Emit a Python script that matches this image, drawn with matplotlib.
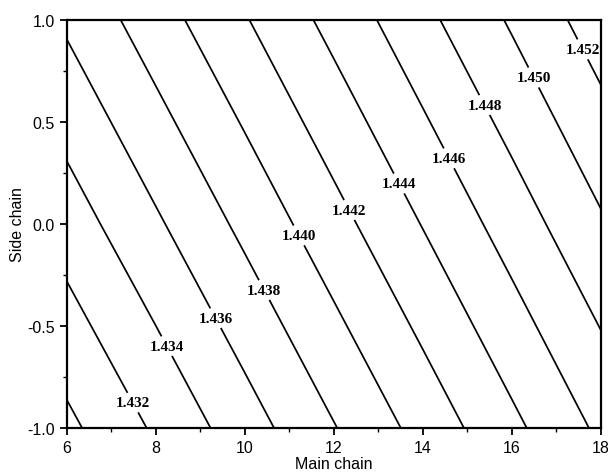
import matplotlib
matplotlib.use("Agg")
import matplotlib.pyplot as plt
import numpy as np
from matplotlib.ticker import MultipleLocator, FormatStrFormatter

# ---- data ----
main_chain = [6, 8, 10, 12, 14, 16, 18]
side_chain = [-1.0, 0.0, 1.0]
index_side_m1 = [1.42953, 1.43229, 1.43508, 1.43790, 1.44070, 1.44353, 1.44639]
index_side_0 = [1.43297, 1.43571, 1.43850, 1.44129, 1.44409, 1.44692, 1.44976]
index_side_p1 = [1.43632, 1.43910, 1.44186, 1.44464, 1.44746, 1.45025, 1.45305]
unlabelled_levels = [1.430]
labelled_levels = [1.432, 1.434, 1.436, 1.438, 1.440, 1.442,
                   1.444, 1.446, 1.448, 1.450, 1.452]

# label anchor positions (layout)
label_xy = [(7.45, -0.88), (8.24, -0.60), (9.36, -0.46), (10.47, -0.32),
            (11.27, -0.05), (12.36, 0.07), (13.48, 0.20), (14.57, 0.32),
            (15.36, 0.58), (16.46, 0.715), (17.57, 0.854)]

X, Y = np.meshgrid(main_chain, side_chain)
Z = np.array([index_side_m1, index_side_0, index_side_p1])

fig = plt.figure(figsize=(6.08, 4.77), dpi=100)
ax = fig.add_axes([0.110, 0.101, 0.8785, 0.855])

ax.contour(X, Y, Z, levels=unlabelled_levels, colors="black", linewidths=1.25)
cs = ax.contour(X, Y, Z, levels=labelled_levels, colors="black", linewidths=1.25)

plt.rcParams["font.family"] = ["Liberation Serif"]
plt.rcParams["font.weight"] = "bold"
texts = ax.clabel(cs, manual=label_xy, fmt="%.3f",
                  inline=True, inline_spacing=-6, fontsize=11)
for t in texts:
    t.set_rotation(0)
    t.set_fontfamily("Liberation Serif")
    t.set_fontweight("bold")
plt.rcParams["font.family"] = ["Liberation Sans"]
plt.rcParams["font.weight"] = "normal"

ax.set_xlim(6, 18)
ax.set_ylim(-1, 1)
ax.xaxis.set_major_locator(MultipleLocator(2))
ax.xaxis.set_minor_locator(MultipleLocator(1))
ax.yaxis.set_major_locator(MultipleLocator(0.5))
ax.yaxis.set_minor_locator(MultipleLocator(0.25))
ax.xaxis.set_major_formatter(FormatStrFormatter("%d"))
ax.yaxis.set_major_formatter(FormatStrFormatter("%.1f"))

ax.tick_params(which="major", direction="out", length=5, width=1.3,
               labelsize=11.5, top=False, right=False)
ax.tick_params(which="minor", direction="out", length=3, width=1.0,
               top=False, right=False)
for lab in ax.get_xticklabels() + ax.get_yticklabels():
    lab.set_fontfamily("Liberation Sans")
for s in ax.spines.values():
    s.set_linewidth(1.6)

ax.set_xlabel("Main chain", fontsize=11.5, family="Liberation Sans", labelpad=1)
ax.set_ylabel("Side chain", fontsize=11.5, family="Liberation Sans", labelpad=2)

fig.savefig("out.png", dpi=100)
